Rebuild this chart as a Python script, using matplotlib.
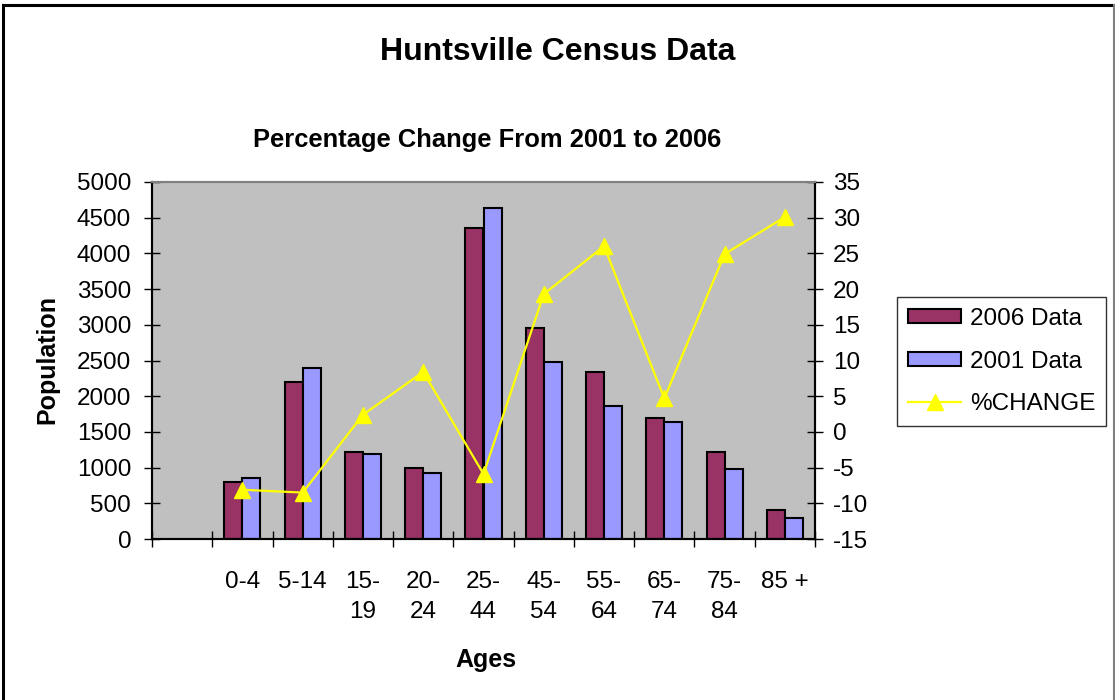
import numpy as np
import matplotlib.pyplot as plt
from matplotlib.lines import Line2D

plt.rcParams['font.family'] = ['Liberation Sans', 'DejaVu Sans']
plt.rcParams['axes.unicode_minus'] = False

# Data (first category is empty)
ages = ['', '0-4', '5-14', '15-\n19', '20-\n24', '25-\n44', '45-\n54',
        '55-\n64', '65-\n74', '75-\n84', '85 +']
data_2006 = [800, 2200, 1220, 1000, 4360, 2960, 2340, 1700, 1220, 410]
data_2001 = [860, 2400, 1190, 920, 4640, 2480, 1860, 1640, 975, 300]
pct_change = [-8.1, -8.5, 2.4, 8.4, -5.9, 19.3, 26.0, 4.7, 24.9, 30.1]

W, H = 1115, 700
fig = plt.figure(figsize=(W / 100, H / 100), dpi=100)
ax = fig.add_axes([152 / W, 1 - 539 / H, (815 - 152) / W, (539 - 182) / H])
ax.set_facecolor('#C0C0C0')

centers = np.arange(len(ages))[1:] + 0.5
w = 0.3
b1 = ax.bar(centers - w / 2, data_2006, w, color='#993366', edgecolor='black',
            linewidth=1.5, label='2006 Data', zorder=2)
b2 = ax.bar(centers + w / 2, data_2001, w, color='#9999FF', edgecolor='black',
            linewidth=1.5, label='2001 Data', zorder=2)

ax.set_xlim(0, len(ages))
ax.set_ylim(0, 5000)
ax.set_yticks(np.arange(0, 5001, 500))
ax.set_xticks(np.arange(len(ages)) + 0.5)
ax.set_xticklabels(ages)
ax.set_xticks(np.arange(len(ages) + 1), minor=True)
ax.tick_params(axis='x', which='major', length=0, pad=23, labelsize=17.5)
ax.tick_params(axis='x', which='minor', length=12, direction='inout', width=1)
ax.tick_params(axis='y', direction='inout', length=12, width=1, pad=9, labelsize=17.5)
for t in ax.get_xticklabels():
    t.set_linespacing(1.45)

ax2 = ax.twinx()
ln, = ax2.plot(centers, pct_change, color='#FFFF00', lw=1.6, marker='^', ms=11,
               mec='#FFFF00', mfc='#FFFF00', label='%CHANGE')
ax2.set_ylim(-15, 35)
ax2.set_yticks(np.arange(-15, 36, 5))
ax2.tick_params(axis='y', direction='inout', length=12, width=1, pad=7, labelsize=17.5)

for a in (ax, ax2):
    for s in ('left', 'bottom', 'right'):
        a.spines[s].set_color('black')
        a.spines[s].set_linewidth(1.5)
    a.spines['top'].set_color('#808080')
    a.spines['top'].set_linewidth(1.5)

leg = fig.legend([b1, b2, ln], ['2006 Data', '2001 Data', '%CHANGE'],
                 loc='upper left', bbox_to_anchor=(897 / W, 1 - 297 / H),
                 borderaxespad=0, fancybox=False, framealpha=1, edgecolor='#333333',
                 fontsize=17.5, handlelength=2.2, handleheight=0.5,
                 handletextpad=0.35, borderpad=0.45, labelspacing=0.85)
leg.get_frame().set_linewidth(1)

fig.text(0.5, 1 - 60 / H, 'Huntsville Census Data', ha='center', va='baseline',
         fontsize=23, fontweight='bold')
fig.text(487 / W, 1 - 147 / H, 'Percentage Change From 2001 to 2006', ha='center',
         va='baseline', fontsize=18.4, fontweight='bold')
fig.text(486 / W, 1 - 667 / H, 'Ages', ha='center', va='baseline',
         fontsize=18, fontweight='bold')
fig.text(47 / W, 1 - 359 / H, 'Population', ha='center', va='center', rotation=90,
         fontsize=18, fontweight='bold')

# outer chart border
fig.add_artist(Line2D([3 / W, 3 / W], [0, 1 - 5 / H], color='black', lw=2.2))
fig.add_artist(Line2D([3 / W, 1113 / W], [1 - 5 / H, 1 - 5 / H], color='black', lw=2.2))
fig.add_artist(Line2D([1113.5 / W, 1113.5 / W], [0, 1 - 5 / H], color='#808080', lw=1.5))

fig.savefig('out.png', dpi=100)
